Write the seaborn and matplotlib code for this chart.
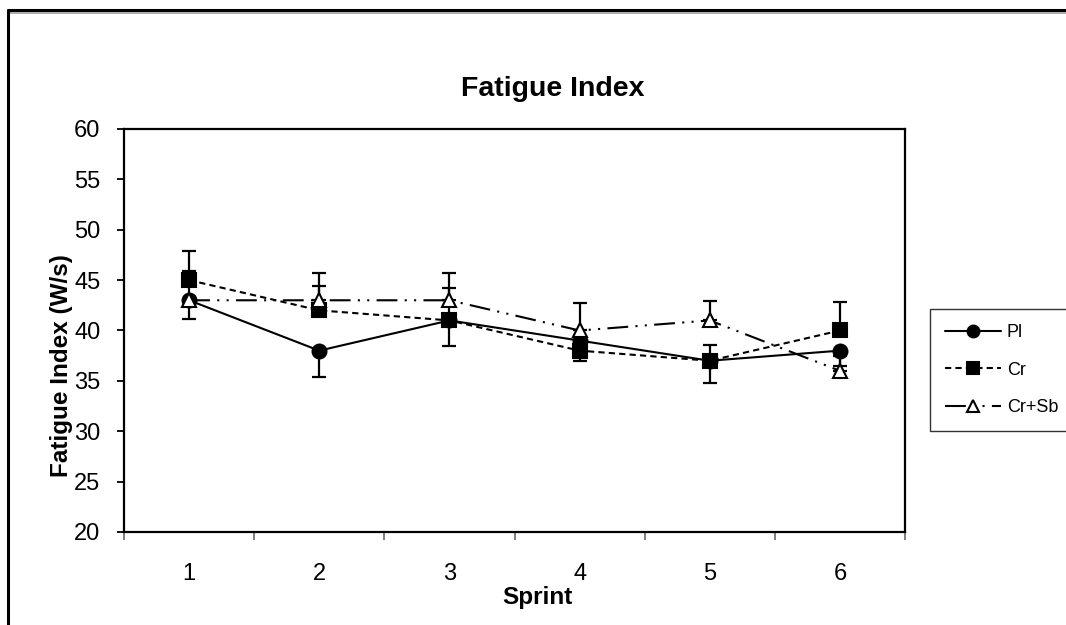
import numpy as np
import pandas as pd
import matplotlib
matplotlib.use("Agg")
import matplotlib.pyplot as plt
import seaborn as sns
from matplotlib.lines import Line2D

# ---- data ----
sprints = [1, 2, 3, 4, 5, 6]
pl = [43, 38, 41, 39, 37, 38]
pl_err_minus = [1.9, 2.6, 2.5, 2.0, 2.2, 1.5]
cr = [45, 42, 41, 38, 37, 40]
cr_err_plus = [2.9, 2.4, 3.2, 1.0, 1.6, 2.8]
crsb = [43, 43, 43, 40, 41, 36]
crsb_err_plus = [2.9, 2.7, 2.7, 2.7, 1.9, 1.5]
group_labels = ["Pl", "Cr", "Cr+Sb"]
y_ticks = [20, 25, 30, 35, 40, 45, 50, 55, 60]
x_tick_labels = ["1", "2", "3", "4", "5", "6"]
title_text = "Fatigue Index"
x_label = "Sprint"
y_label = "Fatigue Index (W/s)"

sns.set_theme(style="white")
plt.rcParams["font.family"] = ["Liberation Sans", "DejaVu Sans"]

W, H = 1066, 625
fig = plt.figure(figsize=(W / 100, H / 100), dpi=100)
ax = fig.add_axes([124 / W, 1 - 532 / H, (905 - 124) / W, (532 - 129) / H])

zero = [0] * len(sprints)

# error bars (one-sided, as in the reference)
ax.errorbar(sprints, pl, yerr=[pl_err_minus, zero], fmt="none", ecolor="black",
            elinewidth=1.6, capsize=5, capthick=1.6, zorder=2)
ax.errorbar(sprints, cr, yerr=[zero, cr_err_plus], fmt="none", ecolor="black",
            elinewidth=1.6, capsize=5, capthick=1.6, zorder=2)
ax.errorbar(sprints, crsb, yerr=[zero, crsb_err_plus], fmt="none", ecolor="black",
            elinewidth=1.6, capsize=5, capthick=1.6, zorder=2)

styles = {
    "Pl": dict(linestyle="-", marker="o", markersize=10, markerfacecolor="black"),
    "Cr": dict(linestyle=(0, (3, 2)), marker="s", markersize=9.5, markerfacecolor="black"),
    "Cr+Sb": dict(linestyle=(0, (10, 3.5, 1, 3.5, 1, 3.5)), marker="^", markersize=10,
                  markerfacecolor="white"),
}
series = {"Pl": pl, "Cr": cr, "Cr+Sb": crsb}
for name in group_labels:
    st = styles[name]
    sns.lineplot(x=sprints, y=series[name], ax=ax, color="black", linewidth=1.5,
                 linestyle=st["linestyle"], marker=st["marker"],
                 markersize=st["markersize"], markerfacecolor=st["markerfacecolor"],
                 markeredgecolor="black", markeredgewidth=1.5, errorbar=None,
                 zorder=3, legend=False)

ax.set_xlim(0.5, 6.5)
ax.set_ylim(20, 60)
ax.set_yticks(y_ticks)
ax.set_xticks(sprints)
ax.set_xticklabels(x_tick_labels)
ax.set_xticks(np.arange(0.5, 7.0, 1.0), minor=True)

ax.tick_params(axis="x", which="major", length=0, pad=22, labelsize=17, colors="black")
ax.tick_params(axis="x", which="minor", bottom=True, length=6, width=1.4,
               color="#7f7f7f", direction="out")
ax.tick_params(axis="y", which="major", left=True, length=5, width=1.3,
               color="black", direction="out", pad=12, labelsize=17, labelcolor="black")

for sp in ax.spines.values():
    sp.set_visible(True)
    sp.set_color("black")
    sp.set_linewidth(1.6)

ax.set_title(title_text, fontsize=20.5, fontweight="bold", pad=24, color="black")
ax.title.set_x((553 - 124) / 781)

ax.set_xlabel(x_label, fontsize=17.5, fontweight="bold", color="black")
ax.xaxis.label.set_va("baseline")
ax.xaxis.set_label_coords((537 - 124) / 781, (532 - 604) / 403)

ax.set_ylabel(y_label, fontsize=17.5, fontweight="bold", color="black")
ax.yaxis.label.set_va("baseline")
ax.yaxis.set_label_coords((68 - 124) / 781, (532 - 366) / 403)

# legend
handles = []
for name in group_labels:
    st = styles[name]
    handles.append(Line2D([], [], color="black", linewidth=1.5, linestyle=st["linestyle"],
                          marker=st["marker"], markersize=st["markersize"] * 0.85,
                          markerfacecolor=st["markerfacecolor"], markeredgecolor="black",
                          markeredgewidth=1.5))
leg = ax.legend(handles, group_labels, loc="upper left",
                bbox_to_anchor=(930 / W, 1 - 309 / H), bbox_transform=fig.transFigure,
                frameon=True, fancybox=False, edgecolor="#333333", framealpha=1,
                fontsize=13, handlelength=3.1, handletextpad=0.3, labelspacing=1.13,
                borderpad=0.85, borderaxespad=0)
leg.get_frame().set_linewidth(1.0)
for t in leg.get_texts():
    t.set_color("black")

# outer frame (top and left edges visible)
fig.add_artist(Line2D([8 / W, 1.01], [1 - 12.5 / H, 1 - 12.5 / H], transform=fig.transFigure,
                      color="#a0a0a0", linewidth=1.2))
fig.add_artist(Line2D([8 / W, 1.01], [1 - 10 / H, 1 - 10 / H], transform=fig.transFigure,
                      color="black", linewidth=2.2))
fig.add_artist(Line2D([8 / W, 8 / W], [1 - 10 / H, -0.01], transform=fig.transFigure,
                      color="black", linewidth=2.2))

fig.savefig("out.png", dpi=100)
